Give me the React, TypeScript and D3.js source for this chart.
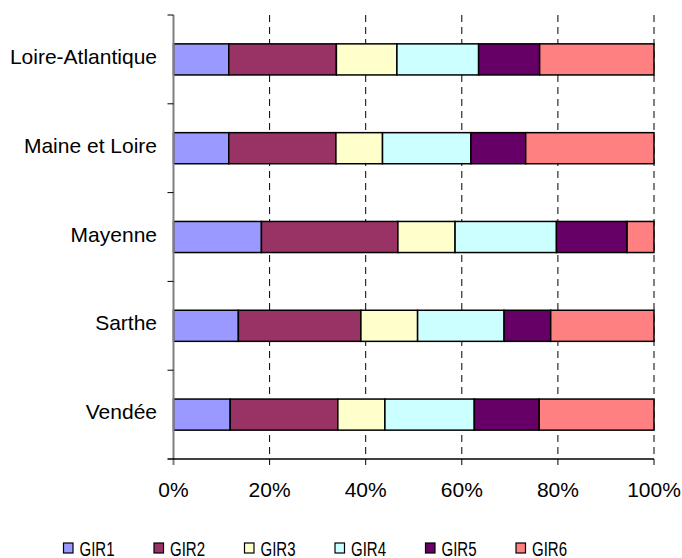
import React, { useEffect, useRef } from "react";
import * as d3 from "d3";

const departements = ["Loire-Atlantique", "Maine et Loire", "Mayenne", "Sarthe", "Vendée"];
const girNames = ["GIR1", "GIR2", "GIR3", "GIR4", "GIR5", "GIR6"];
const girColors = ["#9999FF", "#993366", "#FFFFCC", "#CCFFFF", "#660066", "#FF8080"];

// share (%) of each GIR per departement, same order as departements
const gir1 = [11.5, 11.5, 18.3, 13.5, 11.8];
const gir2 = [22.4, 22.3, 28.4, 25.5, 22.4];
const gir3 = [12.6, 9.7, 11.9, 11.8, 9.8];
const gir4 = [17.0, 18.4, 21.1, 18.0, 18.6];
const gir5 = [12.7, 11.4, 14.7, 9.7, 13.5];
const gir6 = [23.8, 26.7, 5.6, 21.5, 23.9];

const xTicks = [0, 20, 40, 60, 80, 100];

export default function App() {
  const ref = useRef<SVGSVGElement>(null);

  useEffect(() => {
    const svg = d3.select(ref.current);
    svg.selectAll("*").remove();

    const font = "'Liberation Sans', Arial, sans-serif";
    const left = 173.5, right = 654, top = 15, bottom = 459;

    const series = [gir1, gir2, gir3, gir4, gir5, gir6];
    const rows = departements.map((d, i) => {
      const r: any = { dep: d };
      girNames.forEach((g, j) => (r[g] = series[j][i]));
      return r;
    });
    const stacked = d3.stack().keys(girNames)(rows);

    const x = d3.scaleLinear().domain([0, 100]).range([left, right]);
    const y = d3
      .scaleBand()
      .domain(departements)
      .range([top, bottom])
      .paddingInner(0.65)
      .paddingOuter(0.325);
    const step = y.step();

    // dashed gridlines
    svg
      .append("g")
      .selectAll("line")
      .data(xTicks.slice(1))
      .join("line")
      .attr("x1", (d) => x(d))
      .attr("x2", (d) => x(d))
      .attr("y1", top)
      .attr("y2", bottom)
      .attr("stroke", "#000")
      .attr("stroke-width", 1)
      .attr("stroke-dasharray", "7,5");

    // bars
    svg
      .append("g")
      .selectAll("g")
      .data(stacked)
      .join("g")
      .attr("fill", (d, i) => girColors[i])
      .selectAll("rect")
      .data((d) => d)
      .join("rect")
      .attr("x", (d) => x(d[0]))
      .attr("y", (d: any) => y(d.data.dep)!)
      .attr("width", (d) => x(d[1]) - x(d[0]))
      .attr("height", y.bandwidth())
      .attr("stroke", "#000")
      .attr("stroke-width", 1.5);

    // y axis (gray) with ticks between categories
    svg
      .append("line")
      .attr("x1", left)
      .attr("x2", left)
      .attr("y1", top)
      .attr("y2", bottom + 6)
      .attr("stroke", "#808080")
      .attr("stroke-width", 2);
    const boundaries = d3.range(departements.length).map((i) => top + i * step);
    svg
      .append("g")
      .selectAll("line")
      .data(boundaries)
      .join("line")
      .attr("x1", left - 6)
      .attr("x2", left)
      .attr("y1", (d) => d)
      .attr("y2", (d) => d)
      .attr("stroke", "#000");

    // x axis
    svg
      .append("line")
      .attr("x1", left - 6)
      .attr("x2", right)
      .attr("y1", bottom)
      .attr("y2", bottom)
      .attr("stroke", "#000")
      .attr("stroke-width", 1.5);
    svg
      .append("g")
      .selectAll("line")
      .data(xTicks.slice(1))
      .join("line")
      .attr("x1", (d) => x(d))
      .attr("x2", (d) => x(d))
      .attr("y1", bottom)
      .attr("y2", bottom + 6)
      .attr("stroke", "#000");

    svg
      .append("g")
      .selectAll("text")
      .data(xTicks)
      .join("text")
      .attr("x", (d) => x(d))
      .attr("y", 497)
      .attr("text-anchor", "middle")
      .attr("font-family", font)
      .attr("font-size", 21)
      .attr("fill", "#000")
      .text((d) => d + "%");

    // category labels
    svg
      .append("g")
      .selectAll("text")
      .data(departements)
      .join("text")
      .attr("x", 157)
      .attr("y", (d) => y(d)! + y.bandwidth() / 2 + 4.5)
      .attr("text-anchor", "end")
      .attr("font-family", font)
      .attr("font-size", 21)
      .attr("fill", "#000")
      .text((d) => d);

    // legend
    const lg = svg
      .append("g")
      .selectAll("g")
      .data(girNames)
      .join("g")
      .attr("transform", (d, i) => `translate(${63.5 + i * 90.5},0)`);
    lg.append("rect")
      .attr("x", 0)
      .attr("y", 543)
      .attr("width", 9.5)
      .attr("height", 10)
      .attr("fill", (d, i) => girColors[i])
      .attr("stroke", "#000")
      .attr("stroke-width", 1.2);
    lg.append("text")
      .attr("x", 16)
      .attr("y", 555.5)
      .attr("font-family", font)
      .attr("font-size", 20)
      .attr("textLength", 35)
      .attr("lengthAdjust", "spacingAndGlyphs")
      .attr("fill", "#000")
      .text((d) => d);
  }, []);

  return (
    <svg
      ref={ref}
      width={682}
      height={558}
      style={{ position: "absolute", left: 0, top: 0, background: "#fff" }}
    ></svg>
  );
}
